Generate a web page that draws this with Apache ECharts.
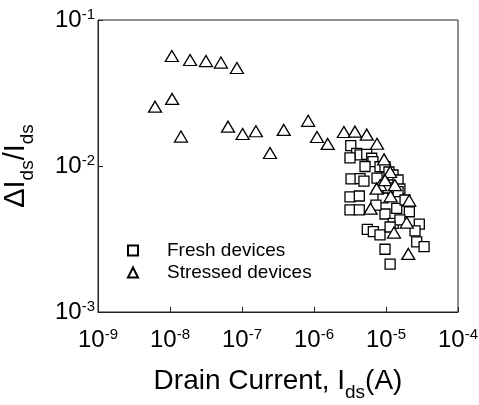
<!DOCTYPE html>
<html><head><meta charset="utf-8">
<script src="https://cdn.jsdelivr.net/npm/echarts@6/dist/echarts.min.js"></script>
<style>html,body{margin:0;padding:0;background:#fff}#c{width:479px;height:405px}</style>
</head><body><div id="c"></div>
<script>
// Fresh devices
const freshCurrent = [3.24e-6,3.92e-6,4.36e-6,3.16e-6,5.40e-6,6.33e-6,6.59e-6,5.11e-6,8.26e-6,9.68e-6,1.10e-5,1.25e-5,1.47e-5,3.27e-6,4.36e-6,4.94e-6,1.56e-5,1.47e-5,3.16e-6,4.26e-6,9.08e-6,3.16e-6,4.26e-6,9.68e-6,1.41e-5,2.11e-5,1.26e-5,1.56e-5,2.90e-5,2.53e-5,5.50e-6,6.67e-6,8.26e-6,1.14e-5,2.67e-5,3.38e-5,9.68e-6,1.14e-5,7.26e-6,1.84e-5,1.07e-5,7.5e-6];
const freshRatio   = [0.01377,0.01222,0.0119,0.01135,0.0120,0.0113,0.0107,0.00992,0.00988,0.00988,0.0091,0.00868,0.00802,0.00815,0.0082,0.00789,0.00696,0.00667,0.00614,0.00623,0.00604,0.0050,0.0050,0.00469,0.00513,0.00486,0.00405,0.00427,0.0040,0.0036,0.00368,0.00355,0.00337,0.00382,0.00302,0.0028,0.00269,0.00213,0.0054,0.00585,0.00707,0.00827];
// Stressed devices
const stressedCurrent = [1.06e-8,1.9e-8,3.16e-8,5.1e-8,8.5e-8,6.2e-9,1.07e-8,1.42e-8,6.4e-8,1.02e-7,1.56e-7,2.45e-7,3.8e-7,8.3e-7,1.1e-6,1.55e-6,2.6e-6,3.7e-6,5.4e-6,7.5e-6,9.4e-6,1.14e-5,8.3e-6,9.7e-6,1.33e-5,7.4e-6,1.16e-5,2.1e-5,6.1e-6,1.94e-5,1.29e-5,2.04e-5];
const stressedRatio   = [0.0567,0.0532,0.0523,0.0511,0.0469,0.0255,0.0288,0.0159,0.0186,0.01656,0.0173,0.01228,0.01766,0.0204,0.0158,0.01416,0.0171,0.0172,0.0164,0.0142,0.0111,0.0091,0.0074,0.0080,0.0074,0.0070,0.0062,0.0058,0.0051,0.0041,0.0035,0.0025];
const seriesNames = ['Fresh devices','Stressed devices'];
const xExponents = [-9,-8,-7,-6,-5,-4];
const yExponents = [-3,-2,-1];

const zip = (a,b)=>a.map((v,i)=>[v,b[i]]);
const FONT = 'Liberation Sans, Arial, sans-serif';
const powLabel = v => '{b|10}{s|' + Math.round(Math.log10(v)) + '}';
const rich = {
  b:{fontSize:24,fontFamily:FONT,color:'#000',verticalAlign:'bottom'},
  s:{fontSize:15,fontFamily:FONT,color:'#000',verticalAlign:'bottom',padding:[0,0,10,0]}
};
const chart = echarts.init(document.getElementById('c'));
chart.setOption({
  animation:false,
  grid:{left:98,top:20,right:21,bottom:93,show:true,borderColor:'#222',borderWidth:1,
        containLabel:false,outerBoundsMode:'none'},
  legend:{
    orient:'vertical',left:122,top:236,itemWidth:10,itemHeight:10,itemGap:3,
    data:seriesNames,
    textStyle:{fontSize:19,fontFamily:FONT,color:'#000',padding:[0,0,0,24]}
  },
  xAxis:{
    type:'log',logBase:10,min:Math.pow(10,xExponents[0]),max:Math.pow(10,xExponents[xExponents.length-1]),
    axisLine:{lineStyle:{color:'#222',width:1}},
    axisTick:{inside:true,length:5,lineStyle:{color:'#222'}},
    minorTick:{show:false},splitLine:{show:false},
    axisLabel:{formatter:powLabel,rich:rich,margin:15},
    name:'{b|Drain Current, I}{sub|ds}{b|(A)}',nameLocation:'middle',nameGap:55,
    nameTextStyle:{rich:{
      b:{fontSize:28,fontFamily:FONT,color:'#000',verticalAlign:'bottom',padding:[0,0,7,0]},
      sub:{fontSize:19,fontFamily:FONT,color:'#000',verticalAlign:'bottom'}
    }}
  },
  yAxis:{
    type:'log',logBase:10,min:Math.pow(10,yExponents[0]),max:Math.pow(10,yExponents[yExponents.length-1]),
    axisLine:{lineStyle:{color:'#222',width:1}},
    axisTick:{inside:true,length:5,lineStyle:{color:'#222'}},
    minorTick:{show:false},splitLine:{show:false},
    axisLabel:{formatter:powLabel,rich:rich,margin:3},
    name:'{b|ΔI}{sub|ds}{b|/I}{sub|ds}',nameLocation:'middle',nameGap:61,nameRotate:90,
    nameTextStyle:{rich:{
      b:{fontSize:29,fontFamily:FONT,color:'#000',verticalAlign:'bottom',padding:[0,0,7,0]},
      sub:{fontSize:19,fontFamily:FONT,color:'#000',verticalAlign:'bottom'}
    }}
  },
  series:[
    {name:seriesNames[0],type:'scatter',symbol:'rect',symbolSize:10,
     itemStyle:{color:'#fff',borderColor:'#000',borderWidth:1.3,opacity:1},
     data:zip(freshCurrent,freshRatio)},
    {name:seriesNames[1],type:'scatter',symbol:'triangle',symbolSize:[13,11],
     itemStyle:{color:'#fff',borderColor:'#000',borderWidth:1.3,opacity:1},
     data:zip(stressedCurrent,stressedRatio)}
  ]
});
</script></body></html>
